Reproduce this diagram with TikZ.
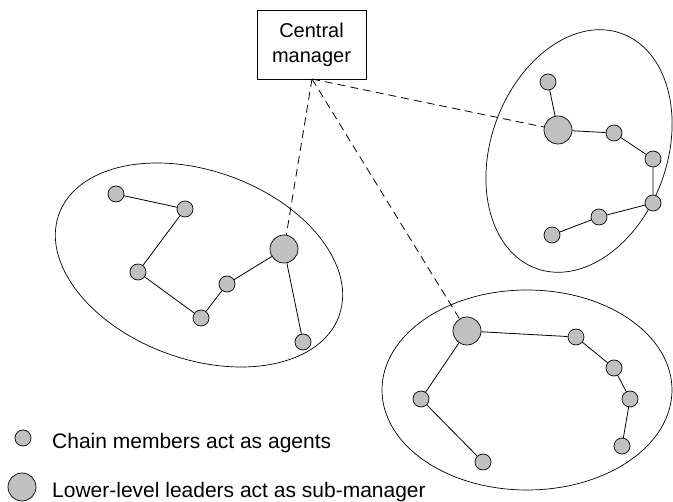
\documentclass[tikz,border=0pt]{standalone}
\usepackage{fontspec}
\setmainfont{Liberation Sans}
\begin{document}
\begin{tikzpicture}[x=1pt,y=-1pt,
  agent/.style={circle,draw=black,line width=0.7pt,fill=nodegray,inner sep=0pt,minimum size=16pt},
  leader/.style={circle,draw=black,line width=0.7pt,fill=nodegray,inner sep=0pt,minimum size=28pt},
  link/.style={draw=black,line width=0.8pt},
  mgrlink/.style={draw=black,line width=0.8pt,dash pattern=on 8pt off 5pt},
  group/.style={draw=black,line width=0.7pt},
  lbl/.style={font=\fontsize{21}{25}\selectfont,anchor=base west,inner sep=0pt}]
\definecolor{nodegray}{RGB}{192,192,192}
\useasboundingbox (0,0) rectangle (673,502);
% ellipses
\coordinate (cl) at (199,265);
\coordinate (cr) at (579,151);
\coordinate (cb) at (527,390);
\draw[group,rotate around={-20:(cl)}] (cl) ellipse [x radius=149pt, y radius=94pt];
\draw[group,rotate around={-20:(cr)}] (cr) ellipse [x radius=88pt, y radius=125pt];
\draw[group] (cb) ellipse [x radius=145pt, y radius=100pt];
% central manager
\node[draw=black,line width=0.8pt,minimum width=109pt,minimum height=69pt,inner sep=0pt,align=center,font=\fontsize{20}{25}\selectfont] (cm) at (311.5,44.5) {Central\\manager};
\coordinate (apex) at (312,79);
% left group
\node[agent] (l1) at (116,194) {};
\node[agent] (l2) at (185,209) {};
\node[agent] (l3) at (138,272) {};
\node[agent] (l4) at (201,318) {};
\node[agent] (l5) at (227,284) {};
\node[leader] (L) at (284,249) {};
\node[agent] (l6) at (303,342) {};
\draw[link] (l1)--(l2) (l2)--(l3) (l3)--(l4) (l4)--(l5) (l5)--(L) (L)--(l6);
% right group
\node[agent] (r1) at (548,82) {};
\node[leader] (R) at (558,130) {};
\node[agent] (r2) at (614,133) {};
\node[agent] (r3) at (653,159) {};
\node[agent] (r4) at (653,203) {};
\node[agent] (r5) at (599,217) {};
\node[agent] (r6) at (552,235) {};
\draw[link] (r1)--(R) (R)--(r2) (r2)--(r3) (r3)--(r4) (r4)--(r5) (r5)--(r6);
% bottom group
\node[leader] (B) at (467,331) {};
\node[agent] (b1) at (576,337) {};
\node[agent] (b2) at (614,368) {};
\node[agent] (b3) at (630,399) {};
\node[agent] (b4) at (622,446) {};
\node[agent] (b5) at (421,399) {};
\node[agent] (b6) at (483,462) {};
\draw[link] (B)--(b1) (b1)--(b2) (b2)--(b3) (b3)--(b4) (B)--(b5) (b5)--(b6);
% manager links
\draw[mgrlink] (apex)--(L);
\draw[mgrlink] (apex)--(R);
\draw[mgrlink] (apex)--(B);
% legend
\node[agent] (ka) at (23,438) {};
\node[leader] (kl) at (22,487) {};
\node[lbl] (ta) at (52,449) {Chain members act as agents};
\node[lbl] (tl) at (52,498) {Lower-level leaders act as sub-manager};
\end{tikzpicture}
\end{document}
